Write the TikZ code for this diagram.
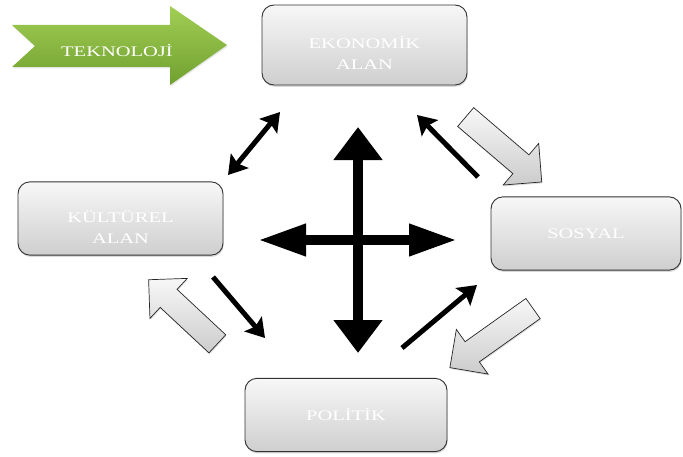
\documentclass[tikz,border=0pt]{standalone}
\usepackage{graphicx}
\usepackage{fontspec}
\setmainfont{Liberation Serif}
\usetikzlibrary{arrows.meta,shapes.arrows,shadows}

\definecolor{teknoTop}{RGB}{162,206,84}
\definecolor{teknoBot}{RGB}{112,160,48}
\newcommand{\widetxt}[1]{\scalebox{1.4}[1]{#1}}
\def\px{0.03cm}

\begin{document}
\begin{tikzpicture}[x=\px, y=-\px]
	\tikzstyle{area}=[draw=black!80, line width=0.8pt, rounded corners=0.36cm, top color=gray!6, bottom color=gray!38, text=white, font=\fontsize{12.5}{18}\selectfont, align=center, drop shadow={opacity=0.3, shadow xshift=0.6pt, shadow yshift=-1.5pt}]
	\tikzstyle{block}=[single arrow, draw=black!85, line width=0.6pt, top color=gray!6, bottom color=gray!40, inner xsep=0pt, inner ysep=0.36cm, single arrow head extend=0.45cm, drop shadow={opacity=0.25, shadow xshift=0.6pt, shadow yshift=-1.2pt}]
	\tikzstyle{link}=[line width=0.15cm, -{Stealth[length=0.55cm,width=0.68cm,inset=0.1cm]}]
	\tikzstyle{cross}=[line width=0.32cm]
	\useasboundingbox (0,0) rectangle (683,457);
	
	% Draw the green arrow
	\path[top color=teknoTop, bottom color=teknoBot, drop shadow={opacity=0.2, shadow xshift=0.6pt, shadow yshift=-1.2pt}]
		(12,25) -- (170,25) -- (170,6) -- (227,45) -- (170,85) -- (170,67) -- (12,67) -- (35,46) -- cycle;
	\node[text=white, font=\fontsize{12.5}{15}\selectfont] (tekno) at (117,51) {\widetxt{TEKNOLOJİ}};
	
	% Draw the four areas (the rule pushes two-line texts a bit down)
	\node[area, minimum width=6.15cm, minimum height=2.4cm] (eko) at (364.5,45) {\rule{0pt}{0.85cm}\widetxt{EKONOMİK}\\\widetxt{ALAN}};
	\node[area, minimum width=6.15cm, minimum height=2.2cm] (kul) at (120.5,218.5) {\rule{0pt}{0.85cm}\widetxt{KÜLTÜREL}\\\widetxt{ALAN}};
	\node[area, minimum width=5.7cm, minimum height=2.2cm] (sos) at (586,233.5) {\widetxt{SOSYAL}};
	\node[area, minimum width=6.06cm, minimum height=2.2cm] (pol) at (346,415) {\widetxt{POLİTİK}};
	
	% Draw the grey block arrows
	\node[block, rotate=-40.5, minimum height=3cm] (gEkSo) at (499,145.5) {};
	\node[block, rotate=137, minimum height=2.82cm] (gPoKu) at (187.5,316) {};
	\node[block, rotate=215.4, minimum height=3.06cm] (gSoPo) at (496.5,334.5) {};
	
	% Ends of the black arrows
	\foreach \n/\x/\y in {kuEk-a/228/175, kuEk-b/280/112, soEk-a/478/177, soEk-b/417/115,
		kuPo-a/213/277, kuPo-b/265/338, poSo-a/402/348, poSo-b/477/285,
		cN/358/127, cS/358/353, cW/258/240, cE/457/240}
	\coordinate (\n) at (\x,\y);
	
	% Draw the black arrows
	\draw[link, {Stealth[length=0.55cm,width=0.68cm,inset=0.1cm]}-{Stealth[length=0.55cm,width=0.68cm,inset=0.1cm]}] (kuEk-a) -- (kuEk-b);
	\foreach \a/\b in {soEk-a/soEk-b, kuPo-a/kuPo-b, poSo-a/poSo-b}
	\draw[link] (\a) -- (\b);
	
	% Draw the cross in the middle
	\draw[cross, {Triangle[length=0.99cm,width=1.41cm]}-{Triangle[length=0.99cm,width=1.41cm]}] (cN) -- (cS);
	\draw[cross, line width=0.3cm, {Triangle[length=1.44cm,width=0.9cm]}-{Triangle[length=1.44cm,width=0.9cm]}] (cW) -- (cE);
	
\end{tikzpicture}
\end{document}
